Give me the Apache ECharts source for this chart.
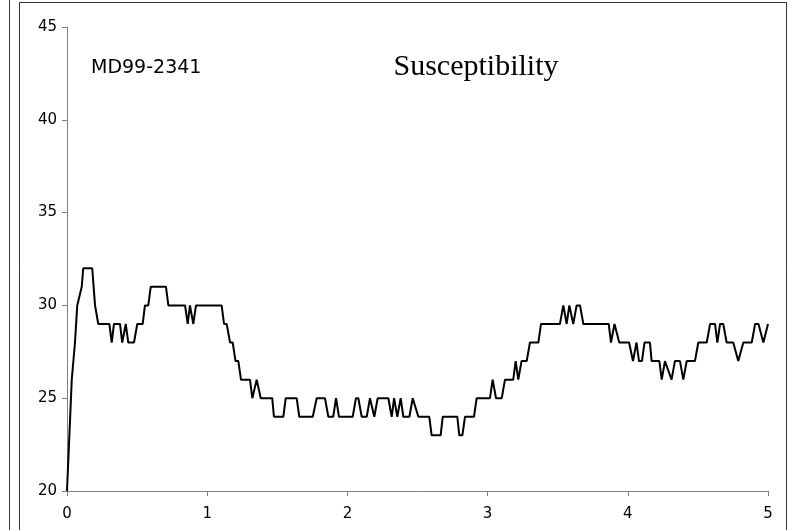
<!DOCTYPE html>
<html>
<head>
<meta charset="utf-8">
<title>MD99-2341 Susceptibility</title>
<script src="https://cdn.jsdelivr.net/npm/echarts@6/dist/echarts.min.js"></script>
<style>
  html, body { margin: 0; padding: 0; background: #ffffff; }
  #chart { width: 791px; height: 530px; }
</style>
</head>
<body>
<div id="chart"></div>
<script>
// Core MD99-2341: magnetic susceptibility against depth
var depth = [
  0.000, 0.034, 0.057, 0.073, 0.105, 0.116, 0.180, 0.200, 0.223, 0.302,
  0.319, 0.335, 0.378, 0.394, 0.419, 0.437, 0.478, 0.501, 0.540, 0.556,
  0.580, 0.597, 0.706, 0.723, 0.842, 0.861, 0.877, 0.901, 0.920, 1.103,
  1.120, 1.139, 1.163, 1.182, 1.202, 1.222, 1.241, 1.305, 1.322, 1.353,
  1.382, 1.464, 1.476, 1.543, 1.560, 1.638, 1.657, 1.753, 1.781, 1.840,
  1.864, 1.899, 1.919, 1.940, 2.038, 2.061, 2.078, 2.102, 2.138, 2.161,
  2.192, 2.216, 2.292, 2.316, 2.333, 2.356, 2.380, 2.399, 2.442, 2.466,
  2.506, 2.584, 2.601, 2.665, 2.680, 2.784, 2.798, 2.820, 2.839, 2.903,
  2.922, 3.017, 3.036, 3.060, 3.101, 3.124, 3.183, 3.200, 3.219, 3.242,
  3.279, 3.302, 3.362, 3.381, 3.516, 3.540, 3.564, 3.583, 3.611, 3.635,
  3.659, 3.683, 3.864, 3.880, 3.905, 3.939, 4.009, 4.037, 4.062, 4.080,
  4.101, 4.119, 4.158, 4.170, 4.225, 4.242, 4.265, 4.312, 4.336, 4.372,
  4.396, 4.420, 4.479, 4.503, 4.563, 4.587, 4.622, 4.639, 4.658, 4.681,
  4.705, 4.752, 4.788, 4.824, 4.884, 4.908, 4.932, 4.967, 5.000
];
var susceptibility = [
  20, 26, 28, 30, 31, 32, 32, 30, 29, 29,
  28, 29, 29, 28, 29, 28, 28, 29, 29, 30,
  30, 31, 31, 30, 30, 29, 30, 29, 30, 30,
  29, 29, 28, 28, 27, 27, 26, 26, 25, 26,
  25, 25, 24, 24, 25, 25, 24, 24, 25, 25,
  24, 24, 25, 24, 24, 25, 25, 24, 24, 25,
  24, 25, 25, 24, 25, 24, 25, 24, 24, 25,
  24, 24, 23, 23, 24, 24, 23, 23, 24, 24,
  25, 25, 26, 25, 25, 26, 26, 27, 26, 27,
  27, 28, 28, 29, 29, 30, 29, 30, 29, 30,
  30, 29, 29, 28, 29, 28, 28, 27, 28, 27,
  27, 28, 28, 27, 27, 26, 27, 26, 27, 27,
  26, 27, 27, 28, 28, 29, 29, 28, 29, 29,
  28, 28, 27, 28, 28, 29, 29, 28, 29
];
var xTicks = [0, 1, 2, 3, 4, 5];
var yTicks = [20, 25, 30, 35, 40, 45];
var coreName = 'MD99-2341';
var chartTitle = 'Susceptibility';

var points = depth.map(function (d, i) { return [d, susceptibility[i]]; });

var axisGrey = '#808080';
var tickFont = { fontFamily: 'DejaVu Sans', fontSize: 15, color: '#000000' };

var chart = echarts.init(document.getElementById('chart'), null, { renderer: 'canvas' });
chart.setOption({
  animation: false,
  backgroundColor: '#ffffff',
  grid: { left: 67, right: 23, top: 27, bottom: 39, containLabel: false },
  xAxis: {
    type: 'value',
    min: xTicks[0],
    max: xTicks[xTicks.length - 1],
    interval: 1,
    axisLine: { show: true, lineStyle: { color: axisGrey, width: 1 } },
    axisTick: { show: true, inside: false, length: 5, lineStyle: { color: axisGrey } },
    splitLine: { show: false },
    axisLabel: Object.assign({ margin: 16 }, tickFont)
  },
  yAxis: {
    type: 'value',
    min: yTicks[0],
    max: yTicks[yTicks.length - 1],
    interval: 5,
    axisLine: { show: true, lineStyle: { color: axisGrey, width: 1 } },
    axisTick: { show: true, inside: false, length: 5, lineStyle: { color: axisGrey } },
    splitLine: { show: false },
    axisLabel: Object.assign({ margin: 10 }, tickFont)
  },
  series: [{
    type: 'line',
    data: points,
    showSymbol: false,
    symbol: 'none',
    lineStyle: { color: '#000000', width: 2 },
    z: 3
  }],
  graphic: [
    // neighbouring panel edge and chart frame
    { type: 'line', shape: { x1: 9.5, y1: 0, x2: 9.5, y2: 530 }, style: { stroke: '#333333', lineWidth: 1 }, silent: true },
    { type: 'rect', shape: { x: 19.5, y: 2.5, width: 767, height: 540 }, style: { fill: null, stroke: '#333333', lineWidth: 1 }, silent: true },
    { type: 'text', x: 91, y: 68, style: { text: coreName, fontFamily: 'DejaVu Sans', fontSize: 19, fill: '#000000', textAlign: 'left', textVerticalAlign: 'middle' }, silent: true },
    { type: 'text', x: 476, y: 67, style: { text: chartTitle, fontFamily: 'Liberation Serif', fontSize: 30, fill: '#000000', textAlign: 'center', textVerticalAlign: 'middle' }, silent: true }
  ]
});
</script>
</body>
</html>
